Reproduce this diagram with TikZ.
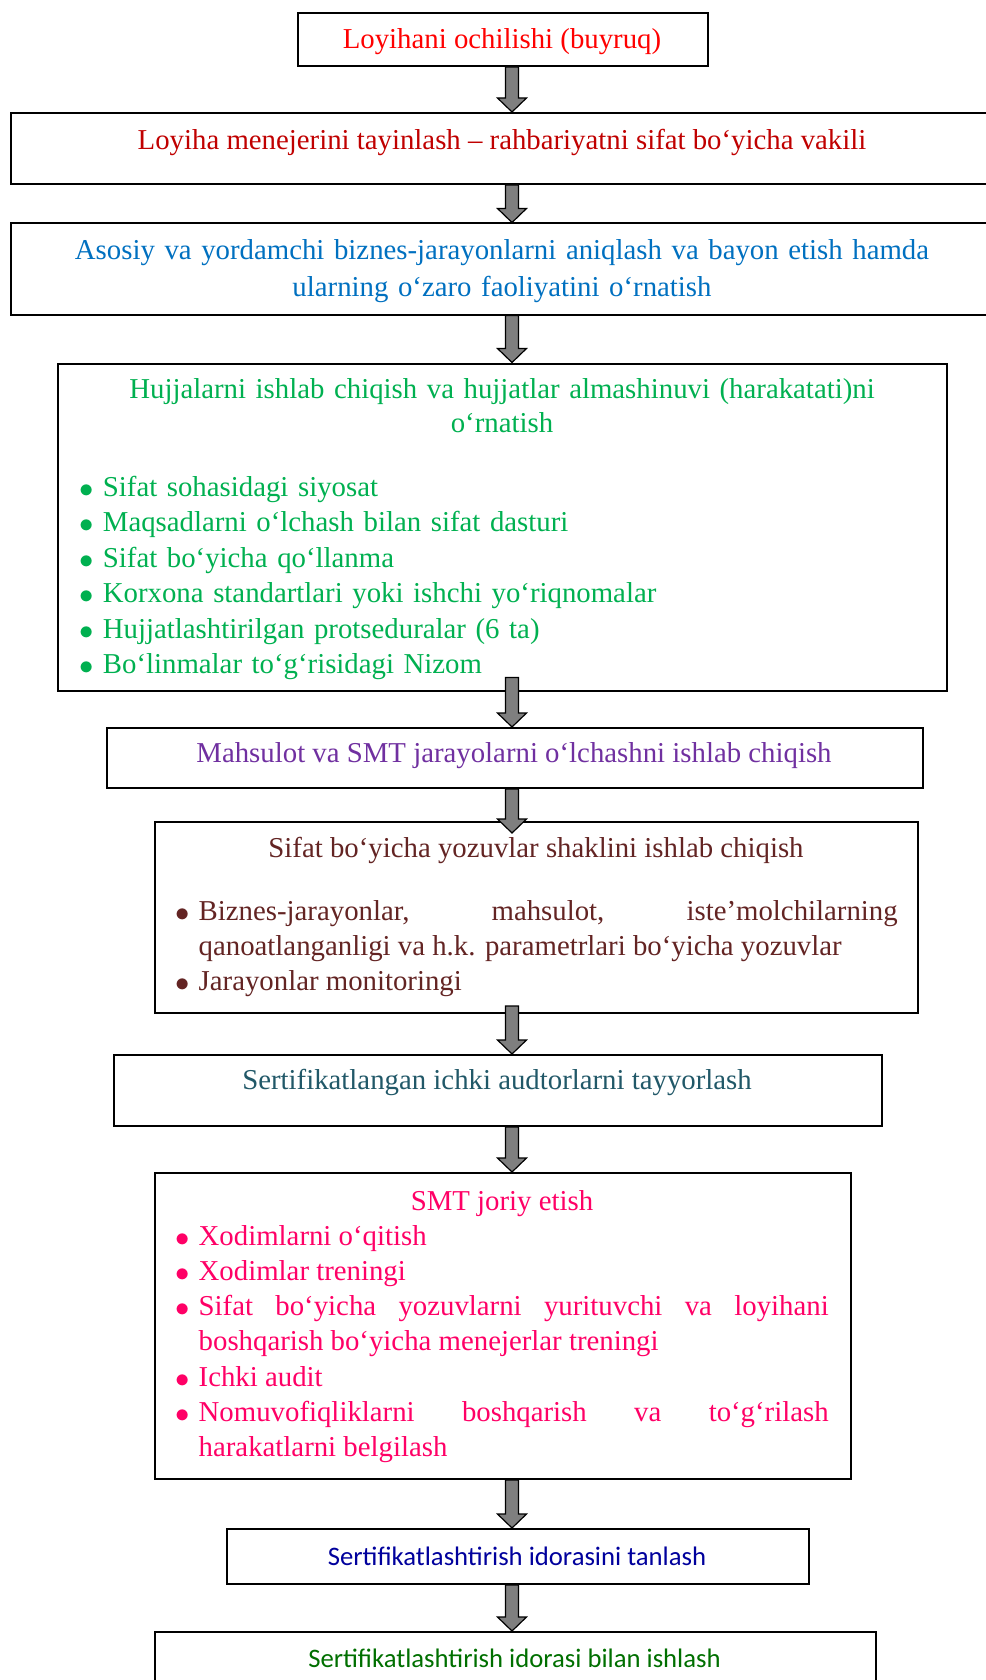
\documentclass[tikz,border=0pt]{standalone}
\usepackage{fontspec}
\setmainfont{Liberation Serif}
\newfontfamily\calfont{Carlito}
\usetikzlibrary{calc}

\definecolor{cRed}{HTML}{FF0000}
\definecolor{cDarkRed}{HTML}{C00000}
\definecolor{cBlue}{HTML}{0070C0}
\definecolor{cGreen}{HTML}{00B050}
\definecolor{cPurple}{HTML}{7030A0}
\definecolor{cBrown}{HTML}{632423}
\definecolor{cTeal}{HTML}{215868}
\definecolor{cPink}{HTML}{FF0066}
\definecolor{cNavy}{HTML}{00009C}
\definecolor{cDkGreen}{HTML}{006F00}
\definecolor{arrowgray}{HTML}{7F7F7F}

\hyphenpenalty=10000
\exhyphenpenalty=10000

% bullet mark hanging in the left margin of a list
\newcommand\bulmark{\llap{\raisebox{-1.1pt}{\scalebox{1.15}{$\bullet$}}\hspace{9pt}}}
% first item of a list, and every following item
\newcommand\bfirst{\bulmark}
\newcommand\bitem{\par\noindent\bulmark}

\begin{document}
\begin{tikzpicture}[x=1pt,y=-1pt,
  box/.style={draw=black, line width=2pt, inner sep=0pt, anchor=north west},
  txt/.style={inner sep=0pt, font=\fontsize{28.8}{35.5}\selectfont},
  cal/.style={inner sep=0pt, font=\calfont\fontsize{26.7}{32}\selectfont},
  blk/.style={draw=black, fill=arrowgray, line width=1.2pt, line join=miter,
    to path={let \p1=(\tikztostart), \p2=(\tikztotarget) in
      (\x1-6.5pt,\y1) -- (\x1-6.5pt,\y2+14pt) -- (\x1-14.5pt,\y2+14pt) -- (\x1,\y2)
      -- (\x1+14.5pt,\y2+14pt) -- (\x1+6.5pt,\y2+14pt) -- (\x1+6.5pt,\y1) -- cycle}}]
\useasboundingbox (0,0) rectangle (985,1680);

% boxes
\node[box, minimum width=410pt, minimum height=53pt]  (b1)  at (297,12)   {};
\node[box, minimum width=985pt, minimum height=71pt]  (b2)  at (10,112)   {};
\node[box, minimum width=985pt, minimum height=91pt]  (b3)  at (10,222.5) {};
\node[box, minimum width=889pt, minimum height=327pt] (b4)  at (57,362.5) {};
\node[box, minimum width=816pt, minimum height=60pt]  (b5)  at (106,727)  {};
\node[box, minimum width=763pt, minimum height=191pt] (b6)  at (154,821)  {};
\node[box, minimum width=768pt, minimum height=71pt]  (b7)  at (113,1054) {};
\node[box, minimum width=696pt, minimum height=306pt] (b8)  at (154,1172) {};
\node[box, minimum width=582pt, minimum height=55pt]  (b9)  at (226,1528) {};
\node[box, minimum width=721pt, minimum height=90pt]  (b10) at (154,1631) {};

% texts
\node[txt, text=cRed, anchor=base] (t1) at (502,48.5) {Loyihani ochilishi (buyruq)};
\node[txt, text=cDarkRed, anchor=base] (t2) at (502,149.5)
  {Loyiha menejerini tayinlash – rahbariyatni sifat bo‘yicha vakili};
\node[txt, text=cBlue, anchor=base, text width=960pt, align=center,
  font=\fontsize{28.8}{37.5}\selectfont] (t3) at (502,259)
  {Asosiy va yordamchi biznes-jarayonlarni aniqlash va bayon etish hamda\\
   ularning o‘zaro faoliyatini o‘rnatish};
\node[txt, text=cGreen, anchor=base, text width=880pt, align=center,
  font=\fontsize{28.8}{33.5}\selectfont] (t4) at (502,398.5)
  {Hujjalarni ishlab chiqish va hujjatlar almashinuvi (harakatati)ni\\ o‘rnatish};
\node[txt, text=cGreen, anchor=base west, text width=830pt, align=left] (l4) at (102.7,496)
  {\bfirst Sifat sohasidagi siyosat
   \bitem Maqsadlarni o‘lchash bilan sifat dasturi
   \bitem Sifat bo‘yicha qo‘llanma
   \bitem Korxona standartlari yoki ishchi yo‘riqnomalar
   \bitem Hujjatlashtirilgan protseduralar (6 ta)
   \bitem Bo‘linmalar to‘g‘risidagi Nizom};
\node[txt, text=cPurple, anchor=base] (t5) at (514,762.5)
  {Mahsulot va SMT jarayolarni o‘lchashni ishlab chiqish};
\node[txt, text=cBrown, anchor=base] (t6) at (536,857.5)
  {Sifat bo‘yicha yozuvlar shaklini ishlab chiqish};
\node[txt, text=cBrown, anchor=base west, text width=699pt, align=justify,
  font=\fontsize{28.8}{35}\selectfont] (l6) at (198.5,920)
  {\bfirst Biznes-jarayonlar, mahsulot, iste’molchilarning\linebreak
   qanoatlanganligi va h.k. parametrlari bo‘yicha yozuvlar
   \bitem Jarayonlar monitoringi};
\node[txt, text=cTeal, anchor=base] (t7) at (497,1089.5)
  {Sertifikatlangan ichki audtorlarni tayyorlash};
\node[txt, text=cPink, anchor=base] (t8) at (502,1210) {SMT joriy etish};
\node[txt, text=cPink, anchor=base west, text width=630pt, align=justify,
  font=\fontsize{28.8}{35.3}\selectfont] (l8) at (198.5,1245)
  {\bfirst Xodimlarni o‘qitish
   \bitem Xodimlar treningi
   \bitem Sifat bo‘yicha yozuvlarni yurituvchi va loyihani\linebreak
   boshqarish bo‘yicha menejerlar treningi
   \bitem Ichki audit
   \bitem Nomuvofiqliklarni boshqarish va to‘g‘rilash\linebreak
   harakatlarni belgilash};
\node[cal, text=cNavy, anchor=base] (t9) at (517,1565)
  {Sertifikatlashtirish idorasini tanlash};
\node[cal, text=cDkGreen, anchor=base] (t10) at (514.5,1667.5)
  {Sertifikatlashtirish idorasi bilan ishlash};

% block arrows between the steps
\coordinate (axis) at (512,0);
\draw[blk] (b1.south -| axis) to (b2.north -| axis);
\draw[blk] (b2.south -| axis) to (b3.north -| axis);
\draw[blk] (b3.south -| axis) to (b4.north -| axis);
\draw[blk] ([yshift=14pt]b4.south -| axis) to (b5.north -| axis);
\draw[blk] (b5.south -| axis) to ([yshift=-12pt]b6.north -| axis);
\draw[blk] ([yshift=8pt]b6.south -| axis) to (b7.north -| axis);
\draw[blk] (b7.south -| axis) to (b8.north -| axis);
\draw[blk] (b8.south -| axis) to (b9.north -| axis);
\draw[blk] (b9.south -| axis) to (b10.north -| axis);
\end{tikzpicture}
\end{document}
